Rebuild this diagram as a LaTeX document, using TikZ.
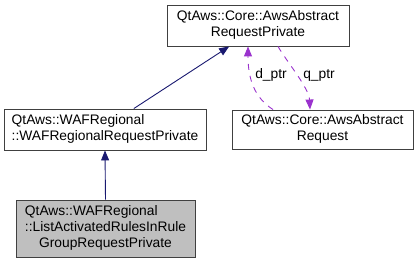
\documentclass[tikz,border=0pt]{standalone}
\usepackage{fontspec}
\setmainfont{Liberation Sans}
\usepackage{tikz}
\usetikzlibrary{positioning,arrows.meta,calc}
\definecolor{inheritblue}{HTML}{191970}
\definecolor{useviolet}{HTML}{9A32CD}
\definecolor{focusgray}{HTML}{BFBFBF}
\newcommand{\lline}[1]{\multicolumn{1}{@{}l@{}}{#1}}
\tikzset{
  classbox/.style={draw=black!75, line width=0.9pt, fill=white, inner sep=1pt, align=center},
  focusbox/.style={classbox, fill=focusgray},
  inheritarrow/.style={-{Triangle[length=10pt,width=8pt]}, draw=inheritblue, line width=0.9pt},
  usearrow/.style={-{Triangle[length=10pt,width=8pt]}, draw=useviolet, line width=0.9pt, dash pattern=on 6pt off 6pt},
  edgelabel/.style={inner sep=0pt}
}

\begin{document}
\begin{tikzpicture}[x=1pt, y=-1pt, every node/.style={font=\fontsize{13.8}{16}\selectfont}]
  \useasboundingbox (0,0) rectangle (418,261);
  % class boxes
  \node[classbox, minimum width=182pt, minimum height=41pt] (arp) at (258,25.5)
    {\begin{tabular}{@{}c@{}}QtAws::Core::AwsAbstract\\RequestPrivate\end{tabular}};
  \node[classbox, minimum width=202pt, minimum height=41pt] (wrp) at (105,129.5)
    {\begin{tabular}{@{}c@{}}\lline{QtAws::WAFRegional}\\::WAFRegionalRequestPrivate\end{tabular}};
  \node[classbox, minimum width=181pt, minimum height=39pt] (req) at (322.5,129.5)
    {\begin{tabular}{@{}c@{}}QtAws::Core::AwsAbstract\\Request\end{tabular}};
  \node[focusbox, minimum width=179pt, minimum height=57pt] (lrp) at (105.5,228.5)
    {\begin{tabular}{@{}c@{}}\lline{QtAws::WAFRegional}\\\lline{::ListActivatedRulesInRule}\\GroupRequestPrivate\end{tabular}};

  % inheritance
  \draw[inheritarrow] (lrp.north) -- (wrp.south);
  \draw[inheritarrow] (wrp.36) -- (arp.216);

  % d_ptr / q_ptr members
  \draw[usearrow] ($(req.north)+(-49.5,0)$) .. controls (255,98) and (248,80) .. ($(arp.south)+(-10,0)$);
  \draw[usearrow] ($(arp.south)+(20,0)$) .. controls (287,62) and (309,88) .. ($(req.north)+(-12.5,0)$);
  \node[edgelabel] (dptr) at (271,75) {d\_ptr};
  \node[edgelabel] (qptr) at (319,75) {q\_ptr};
\end{tikzpicture}
\end{document}
